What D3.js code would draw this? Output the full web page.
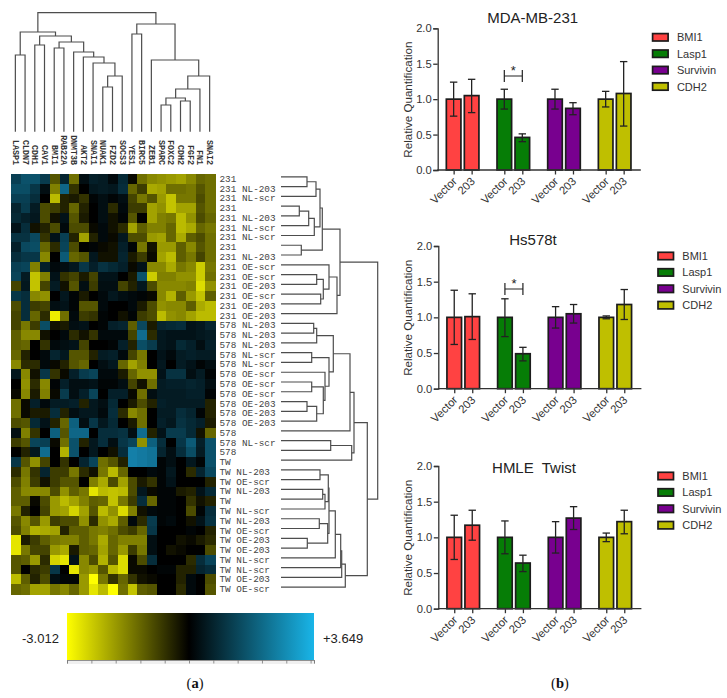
<!DOCTYPE html>
<html><head><meta charset="utf-8">
<script src="https://cdn.jsdelivr.net/npm/d3@7"></script>
<style>html,body{margin:0;background:#fff}svg{display:block}</style>
</head><body><svg id="c" width="727" height="698"></svg>
<script>
const geneLabels=["LASP1","CLDN7","CDH1","CAV1","BMI1","RAB22A","DNMT3B","AKT2","SNAI1","NUAK1","FZD2","SOCS3","YES1","BIRC5","ZEB1","SPARC","FOXC2","CDH2","FGF2","FN1","SNAI2"];
const sampleLabels=["231","231 NL-203","231 NL-scr","231","231 NL-203","231 NL-scr","231 NL-scr","231","231 NL-203","231 OE-scr","231 OE-scr","231 OE-203","231 OE-scr","231 OE-203","231 OE-203",
"578 NL-203","578 NL-203","578 NL-203","578 NL-scr","578 NL-scr","578 OE-scr","578 OE-scr","578 OE-scr","578 OE-203","578 OE-203","578 OE-203","578","578 NL-scr","578",
"TW","TW NL-203","TW OE-scr","TW NL-203","TW","TW NL-scr","TW NL-203","TW OE-scr","TW OE-203","TW OE-203","TW NL-scr","TW NL-scr","TW OE-203","TW OE-scr"];
const heatRows=[
[1.4,1.8,1.8,1.3,-1.0,0.8,-1.3,0.3,0.7,0.6,0.2,0.9,-0.1,-1.3,-1.6,-1.7,-1.8,-1.9,-1.6,-1.2,-1.3],
[1.7,1.7,1.2,0.3,-1.5,2.2,-0.6,0.0,0.5,0.6,0.5,1.0,-1.2,-0.7,-2.0,-1.9,-1.3,-1.3,-1.4,-1.0,-1.3],
[1.4,1.4,1.0,0.0,-2.2,-0.4,-0.3,-0.6,0.1,0.3,0.1,0.3,-0.8,-1.4,-1.0,-1.8,-2.3,-1.4,-1.4,-0.9,-1.3],
[0.8,1.3,0.6,-0.9,-0.7,-0.4,-1.2,-0.4,0.0,0.3,-0.5,0.2,-0.7,-0.7,-1.9,-1.7,-2.3,-1.9,-1.9,-1.0,-1.3],
[0.9,0.7,0.5,-0.9,-0.2,0.4,-1.0,-0.3,0.0,0.3,-0.2,0.1,-1.0,0.0,-1.9,-1.5,-1.4,-2.2,-1.7,-0.9,-1.2],
[0.4,1.0,-0.2,-0.4,-0.9,0.2,-0.9,-0.9,-0.1,0.2,-0.2,-0.5,-1.9,-1.1,-1.5,-1.5,-1.2,-2.2,-2.0,-1.2,-1.4],
[1.1,1.1,1.6,-0.6,0.4,1.4,-0.4,-1.9,-0.4,0.2,-0.1,0.5,-0.9,-0.9,-1.8,-1.9,-1.2,-2.0,-1.1,-0.9,-1.3],
[0.7,1.6,1.7,-1.2,-0.5,1.5,-0.9,0.0,0.1,-0.1,-0.2,0.7,0.1,-1.4,-0.2,-1.8,-1.8,-1.1,-1.6,-1.0,-1.3],
[1.0,1.2,1.2,-1.6,0.0,2.0,-1.2,-1.0,0.5,-0.2,-0.2,0.8,-0.3,-0.7,-0.1,-1.9,-2.2,-1.1,-1.4,-0.8,-1.3],
[1.4,1.5,-1.5,0.7,0.2,0.3,0.5,1.2,0.7,1.1,0.9,0.7,-0.1,0.4,-1.6,-1.6,-2.0,-1.4,-1.6,-2.4,-1.4],
[1.5,0.6,-2.3,-1.5,0.4,-0.6,-0.8,-0.3,-0.8,0.4,0.4,0.0,-0.3,1.8,-2.4,-1.5,-1.5,-1.7,-1.7,-2.4,-1.3],
[-0.8,0.5,-2.3,-0.8,0.6,-0.2,-1.0,0.3,-0.7,0.3,0.3,-0.8,-0.4,0.5,-0.9,-1.6,-1.6,-1.6,-1.5,-2.6,-1.7],
[1.2,1.0,-1.6,-1.7,0.0,0.5,0.1,-0.3,0.0,0.2,0.5,0.3,0.2,0.1,-0.1,-1.6,-2.1,-1.1,-1.8,-2.3,-1.1],
[-0.9,1.0,-0.7,-0.8,0.3,0.4,0.1,-1.0,-1.0,0.2,0.0,0.0,0.2,-0.3,-0.9,-1.7,-1.6,-1.6,-1.1,-2.0,-2.2],
[-0.8,1.0,-1.2,-0.5,-2.8,-1.3,0.2,-0.7,-0.6,0.1,0.0,-0.2,0.1,-0.7,-0.9,-2.2,-1.7,-1.6,-1.9,-2.2,-2.2],
[-0.8,-1.4,-0.7,1.7,-0.2,-0.3,0.3,0.4,0.0,0.1,0.7,0.8,-1.1,1.6,-0.3,0.8,0.9,1.0,0.4,0.5,0.8],
[-1.1,-1.6,-1.6,-0.2,0.0,0.2,-0.5,-0.2,-0.6,0.2,0.2,0.2,-0.8,2.3,-0.5,0.5,0.4,0.4,0.4,0.5,0.6],
[-1.1,-1.2,0.0,-0.6,0.2,0.3,0.4,-0.8,0.0,0.0,0.1,0.7,-0.4,1.7,1.3,0.5,0.4,0.9,0.7,0.3,0.7],
[-1.2,-0.4,0.0,0.2,0.8,0.5,-1.0,-1.0,-0.4,0.6,0.7,0.2,-0.8,-1.4,0.0,0.4,0.2,0.6,0.7,0.6,0.6],
[-1.6,-0.5,-0.5,0.2,-0.1,-0.4,-1.0,-1.2,0.0,0.3,0.5,-1.2,-1.9,-1.5,0.0,0.5,0.0,0.6,0.4,0.1,0.3],
[0.5,-1.6,-0.2,1.2,-0.6,-0.1,0.7,1.3,1.5,0.2,0.2,-0.3,-1.2,-1.7,-1.7,0.4,1.1,1.1,0.3,0.6,0.1],
[0.0,-1.7,-0.5,-1.6,0.1,0.7,0.3,0.3,0.4,0.1,0.1,0.3,-0.8,-0.2,-1.3,0.6,0.7,0.7,0.8,0.7,0.3],
[-0.1,-1.6,-0.3,-1.5,-0.1,1.3,0.3,0.7,1.5,0.0,0.7,0.7,-0.1,-1.3,0.3,0.6,0.6,0.6,0.7,0.7,0.1],
[-1.3,-0.1,0.7,0.2,0.6,0.6,0.7,-0.4,0.5,0.3,0.9,0.0,-0.3,-0.9,-0.4,0.7,0.6,0.6,0.6,0.6,-0.4],
[-1.3,-0.1,-0.3,-0.3,1.0,-0.4,0.3,0.5,0.5,0.2,1.0,-0.5,-1.6,-1.3,0.0,0.6,0.6,1.0,0.8,0.1,-0.4],
[-0.9,-1.0,0.9,0.4,-0.4,-1.2,2.1,0.3,1.2,0.5,0.9,0.0,-0.3,-1.3,0.0,0.7,0.5,1.1,0.9,0.7,-0.3],
[0.3,-1.5,-0.6,0.0,2.1,-1.0,2.2,2.2,0.0,1.0,1.0,1.1,0.3,2.3,-0.4,0.4,1.3,1.3,0.9,-0.2,-1.2],
[-0.7,-1.0,1.5,1.4,-0.1,-1.3,1.8,-0.4,0.5,1.0,0.3,1.2,1.5,-1.7,2.1,1.0,0.0,1.2,2.0,0.7,1.8],
[0.0,-0.4,0.5,2.3,0.0,-2.1,1.8,0.0,0.5,0.0,-0.2,1.0,2.6,2.5,2.4,0.8,0.3,1.0,1.7,0.6,1.8],
[1.2,-1.0,-1.7,-0.8,0.0,-0.6,0.0,0.8,1.5,-1.3,-1.0,-0.4,2.6,2.5,2.4,0.1,0.3,0.0,0.5,0.1,1.8],
[-0.5,-1.4,-0.6,0.8,-0.7,-0.7,-1.4,-0.5,-0.2,-1.4,-2.2,-1.2,0.0,0.0,0.2,0.1,0.5,0.0,-0.5,0.8,1.6],
[-0.9,-1.5,-0.7,-0.2,-0.7,-1.0,-1.0,0.0,-1.5,-2.0,-0.9,-1.9,-0.9,-0.3,-0.6,0.1,0.4,0.0,0.0,0.0,-0.4],
[-1.1,-1.6,-1.6,-1.6,-0.9,-1.7,-1.1,-1.4,-2.7,-2.2,-2.3,-2.2,-0.9,0.5,-0.1,0.1,0.1,-0.3,-0.4,0.4,0.9],
[-1.1,-1.1,-0.1,-0.9,-1.8,-2.2,-1.9,-1.5,-1.1,-1.2,-2.3,-1.4,-0.7,1.0,-1.2,0.1,0.1,0.0,-0.6,-0.2,-0.4],
[-1.4,-0.4,0.0,-0.8,-1.8,-1.9,-2.5,-1.9,-1.0,-2.2,-1.7,-2.6,-1.5,-0.2,0.2,0.1,0.1,0.0,-0.9,0.1,1.0],
[-1.0,-1.6,-1.0,-1.8,-0.7,-0.9,-0.9,-1.7,-0.5,-1.7,-2.0,-1.1,0.2,-0.5,1.3,0.1,0.2,0.0,-0.2,0.4,1.1],
[-0.9,-1.5,-2.1,-2.0,-1.9,-0.4,-1.1,-1.1,-1.4,-1.5,-1.3,-0.9,-0.7,-1.2,1.2,0.0,0.0,0.0,0.1,0.0,-0.4],
[-2.7,-0.3,-0.7,-1.1,-1.4,-1.5,-1.5,-1.1,-1.4,-2.0,-1.2,-1.5,-1.5,-1.5,0.3,0.0,0.0,-0.2,-0.1,-0.3,-0.5],
[-2.7,-1.4,-0.8,-0.8,-1.8,-2.0,-0.3,-1.1,-1.2,-1.9,-1.2,-1.8,-0.7,-1.4,0.3,0.0,-0.2,-0.1,0.0,0.0,-0.9],
[-1.0,-1.1,-1.8,-0.5,-2.5,-2.7,0.4,-1.6,-0.9,-2.1,-1.0,-2.6,-0.1,-0.9,1.0,0.0,0.0,0.0,-0.5,1.0,1.5],
[-1.0,0.0,-0.5,-0.7,1.2,0.0,-2.7,-1.6,-1.8,-1.0,-2.2,-2.6,-0.1,-0.1,0.0,0.1,0.1,-0.4,-0.4,0.8,1.0],
[-2.2,-1.1,-0.4,-0.9,0.3,0.1,0.1,-1.8,-3.0,-1.4,-0.6,-1.2,-0.6,-0.2,-0.1,0.0,0.0,-0.4,0.2,0.0,-0.9],
[-1.2,-1.3,-1.9,-1.9,-1.4,-1.6,-1.2,-1.8,-2.7,-2.2,-3.0,-1.3,-2.3,-1.1,-1.0,0.0,0.0,-0.5,0.2,0.0,-1.0]
];
// Dendrograms: [merge distance, left, right]; integers are leaf indices
const geneTree=[119,
 [99.7,[76.7,0,1],[95.7,[86.7,2,3],[89.7,[83.7,4,5],[79.7,6,[74.7,7,[68.7,8,[55.7,[44.7,9,10],11]]]]]]],
 [107.7,[97.7,12,13],[71.7,14,[55.7,[42.7,[33.7,[26.7,15,16],[30.7,17,18]],19],20]]]];
const sampleTree=[96.7,
 [59,[41.3,[39,[35,[26,0,1],2],[33.3,[27.7,[18.3,3,4],5],6]],[20.3,7,8]],
     [56,[48,9,[42.3,[35.7,10,11],[39.7,12,13]]],14]],
 [86.3,
  [73,[69,[52.3,[35.7,[32.7,15,16],17],[48,[30.7,18,19],[44,20,[42.3,[30.7,21,22],[35.7,[26,23,24],25]]]]],26],
      [70.7,[49.7,27,28],29]],
  [64.3,[60.7,[59.7,[54.3,[48,[47.3,[39,30,31],[44,[41.7,32,33],34]],[46.7,[38.3,35,36],[26.3,37,38]]],39],40],41],42]]];
const scaleBarTicks=[-3.012,-2.41,-1.81,-1.2,-0.6,0,0.71,1.42,2.13,2.84,3.55,3.649];
const targets=["BMI1","Lasp1","Survivin","CDH2"];
const conditions=["Vector","203"];
const targetColors=["#ff4242","#067d06","#78008f","#bfbf00"];
const yTicks=[0,0.5,1,1.5,2];
const mdaValues=[1.0,1.05,1.0,0.46,1.0,0.87,1.0,1.08];
const mdaLow=[0.76,0.81,0.86,0.40,0.86,0.78,0.89,0.62];
const mdaHigh=[1.24,1.28,1.14,0.51,1.14,0.95,1.11,1.53];
const hsValues=[1.0,1.01,1.0,0.49,1.0,1.05,1.0,1.18];
const hsLow=[0.62,0.69,0.73,0.39,0.85,0.92,0.98,0.97];
const hsHigh=[1.38,1.33,1.26,0.58,1.15,1.18,1.02,1.39];
const hmleValues=[1.0,1.17,1.0,0.64,1.0,1.27,1.0,1.22];
const hmleLow=[0.69,0.96,0.77,0.52,0.78,1.11,0.94,1.05];
const hmleHigh=[1.31,1.38,1.23,0.75,1.22,1.43,1.06,1.38];

const svg=d3.select("#c");
const SANS="'Liberation Sans',Arial,sans-serif", MONO="'Liberation Mono',monospace";
const colorValue=d3.scaleLinear().domain([-3.012,0,3.649]).range(["#ffff00","#000000","#19b5e8"]);
const cellColor=d3.scaleLinear().domain([-3.012,-2,0,2,2.6,3.649]).range(["#ffff00","#aaaa00","#000000","#0c5a76","#147fa8","#19b5e8"]);
const colX=d3.scaleBand().domain(d3.range(geneLabels.length)).range([11,215]);
const rowY=d3.scaleBand().domain(d3.range(sampleLabels.length)).range([174,594]);

// Heatmap
const hm=svg.append("g").attr("shape-rendering","crispEdges");
hm.selectAll("g").data(heatRows).join("g").each(function(row,r){
  d3.select(this).selectAll("rect").data(row).join("rect")
    .attr("x",(d,c)=>colX(c)).attr("y",rowY(r))
    .attr("width",colX.bandwidth()+.5).attr("height",rowY.bandwidth()+.5)
    .attr("fill",d=>cellColor(d));
});
// Labels
svg.append("g").selectAll("text").data(geneLabels).join("text")
  .attr("transform",(d,i)=>`translate(${colX(i)+colX.bandwidth()/2-3},165) rotate(90)`)
  .attr("text-anchor","end").attr("font-family",MONO).attr("font-size",8.3).attr("font-weight","bold").attr("fill","#333").text(d=>d);
svg.append("g").selectAll("text").data(sampleLabels).join("text")
  .attr("x",219.5).attr("y",(d,i)=>rowY(i)+rowY.bandwidth()/2+3)
  .attr("font-family",MONO).attr("font-size",9.35).attr("fill","#444").text(d=>d);

// Dendrograms
function drawTree(tree,distScale,leafPos,horizontal){
  const g=svg.append("g").attr("fill","none").attr("stroke","#4d4d4d").attr("stroke-width",1.2);
  (function walk(n){
    if(typeof n==="number") return {p:leafPos(n),d:0};
    const a=walk(n[1]), b=walk(n[2]), D=distScale(n[0]);
    const path=d3.path();
    if(horizontal){
      path.moveTo(distScale(a.d),a.p);path.lineTo(D,a.p);path.lineTo(D,b.p);path.lineTo(distScale(b.d),b.p);
    }else{
      path.moveTo(a.p,distScale(a.d));path.lineTo(a.p,D);path.lineTo(b.p,D);path.lineTo(b.p,distScale(b.d));
    }
    g.append("path").attr("d",path.toString());
    return {p:(a.p+b.p)/2,d:n[0]};
  })(tree);
}
drawTree(geneTree,d3.scaleLinear().domain([0,119]).range([131.7,12.7]),i=>colX(i)+colX.bandwidth()/2-.5,false);
drawTree(sampleTree,d3.scaleLinear().domain([0,96.7]).range([281,377.7]),i=>rowY(i)+rowY.bandwidth()/2-2,true);

// Colour bar
const barX=d3.scaleLinear().domain([-3.012,0,3.649]).range([67,189,314]);
const grad=svg.append("defs").append("linearGradient").attr("id","cb");
grad.selectAll("stop").data(colorValue.domain()).join("stop")
  .attr("offset",d=>(barX(d)-67)/247).attr("stop-color",d=>colorValue(d));
svg.append("rect").attr("x",barX(-3.012)).attr("y",613).attr("width",barX(3.649)-barX(-3.012)).attr("height",47).attr("fill","url(#cb)");
svg.append("rect").attr("x",barX(-3.012)).attr("y",660).attr("width",barX(3.649)-barX(-3.012)).attr("height",4).attr("fill","#f0f0f0");
const barAxis=d3.axisBottom(barX).tickValues(scaleBarTicks).tickFormat("").tickSize(3.5);
const ba=svg.append("g").attr("transform","translate(0,660)").call(barAxis);
ba.selectAll("path,line").attr("stroke","#777").attr("stroke-width",.8);
svg.append("text").attr("x",22).attr("y",643).attr("font-family",SANS).attr("font-size",13).attr("fill","#222").text("-3.012");
svg.append("text").attr("x",323).attr("y",643).attr("font-family",SANS).attr("font-size",13).attr("fill","#222").text("+3.649");

// Captions
function caption(x,letter){
  const t=svg.append("text").attr("x",x).attr("y",688).attr("text-anchor","middle").attr("font-family","'Liberation Serif',serif").attr("font-size",14.5).attr("fill","#111");
  t.append("tspan").text("(");t.append("tspan").attr("font-weight","bold").text(letter);t.append("tspan").text(")");
}
caption(195,"a");caption(560,"b");

// Bar panels
function panel(o){
  const g=svg.append("g");
  const y=d3.scaleLinear().domain([0,2]).range([o.y0,o.y2]);
  const group=d3.scaleBand().domain(targets).range([o.x0,o.x0+202.7]);
  const inner=d3.scalePoint().domain(conditions).range([-9,9]);
  const keys=targets.flatMap(t=>conditions.map(c=>t+"|"+c));
  const center=t=>group(t)+group.bandwidth()/2;
  const x=d3.scaleOrdinal().domain(keys).range(targets.flatMap(t=>conditions.map(c=>center(t)+inner(c))));
  const rows=keys.map((k,i)=>({k,t:k.split("|")[0],v:o.values[i],lo:o.low[i],hi:o.high[i]}));
  const col=d3.scaleOrdinal().domain(targets).range(targetColors);
  g.selectAll("rect.bar").data(rows).join("rect").attr("class","bar")
    .attr("x",d=>x(d.k)-7.3).attr("width",14.6).attr("y",d=>y(d.v)).attr("height",d=>y(0)-y(d.v))
    .attr("fill",d=>col(d.t)).attr("stroke","#1c1c1c").attr("stroke-width",1.7);
  const eb=g.selectAll("g.eb").data(rows).join("g").attr("class","eb").attr("stroke","#222").attr("stroke-width",1.3);
  eb.append("line").attr("x1",d=>x(d.k)).attr("x2",d=>x(d.k)).attr("y1",d=>y(d.lo)).attr("y2",d=>y(d.hi));
  eb.append("line").attr("x1",d=>x(d.k)-3.7).attr("x2",d=>x(d.k)+3.7).attr("y1",d=>y(d.lo)).attr("y2",d=>y(d.lo));
  eb.append("line").attr("x1",d=>x(d.k)-3.7).attr("x2",d=>x(d.k)+3.7).attr("y1",d=>y(d.hi)).attr("y2",d=>y(d.hi));
  const ya=g.append("g").attr("transform",`translate(${o.x0+.4},0)`).call(d3.axisLeft(y).tickValues(yTicks).tickFormat(d3.format(".1f")).tickSize(4.5).tickPadding(1.5));
  const xa=g.append("g").attr("transform",`translate(0,${o.y0})`).call(d3.axisBottom(x).tickFormat(k=>k.split("|")[1]).tickSize(4.5));
  xa.select("path.domain").attr("d",`M${o.x0},0H${o.x0+203.5}`);
  [ya,xa].forEach(a=>{a.selectAll("path,line").attr("stroke","#333").attr("stroke-width",1.3);
    a.selectAll("text").attr("font-family",SANS).attr("fill","#333");});
  ya.selectAll("text").attr("font-size",11.2);
  xa.selectAll("text").attr("font-size",11.3).attr("text-anchor","end").attr("dy",0).attr("y",0)
    .attr("transform","translate(3.5,12) rotate(-45)");
  g.append("text").attr("transform",`translate(${o.x0-25.8},${(o.y0+o.y2)/2+.5}) rotate(-90)`).attr("text-anchor","middle")
    .attr("font-family",SANS).attr("font-size",11.6).attr("fill","#333").text("Relative Quantification");
  g.append("text").attr("x",o.titleX).attr("y",o.titleY).attr("text-anchor","middle").attr("font-family",SANS).attr("font-size",15).attr("fill","#222").style("white-space","pre").text(o.title);
  if(o.sig!=null){
    const xa1=x("Lasp1|Vector"),xb=x("Lasp1|203"),ys=y(o.sig);
    const br=d3.path();br.moveTo(xa1,ys-6);br.lineTo(xa1,ys+6);br.moveTo(xa1,ys);br.lineTo(xb,ys);br.moveTo(xb,ys-6);br.lineTo(xb,ys+6);
    g.append("path").attr("d",br.toString()).attr("fill","none").attr("stroke","#222").attr("stroke-width",1.2);
    g.append("text").attr("x",(xa1+xb)/2).attr("y",ys-1).attr("text-anchor","middle").attr("font-family",SANS).attr("font-size",13).attr("fill","#222").text("*");
  }
  const lg=g.selectAll("g.lg").data(targets).join("g").attr("class","lg")
    .attr("transform",(d,i)=>`translate(${o.legX},${o.legY+i*16.4})`);
  lg.append("rect").attr("x",0).attr("y",-3.7).attr("width",15.5).attr("height",7.4).attr("fill",d=>col(d)).attr("stroke","#1c1c1c").attr("stroke-width",1.7);
  lg.append("text").attr("x",24.3).attr("y",4).attr("font-family",SANS).attr("font-size",11).attr("fill","#333").text(d=>d);
}
panel({title:"MDA-MB-231",titleX:532.7,titleY:22.5,values:mdaValues,low:mdaLow,high:mdaHigh,x0:437.3,y0:170,y2:28.3,legX:652.6,legY:37.3,sig:1.327});
panel({title:"Hs578t",titleX:533,titleY:244.5,values:hsValues,low:hsLow,high:hsHigh,x0:437.9,y0:388.7,y2:246,legX:658,legY:256,sig:1.397});
panel({title:"HMLE  Twist",titleX:534,titleY:472.5,values:hmleValues,low:hmleLow,high:hmleHigh,x0:437.9,y0:608.7,y2:466,legX:658,legY:476,sig:null});
</script></body></html>
